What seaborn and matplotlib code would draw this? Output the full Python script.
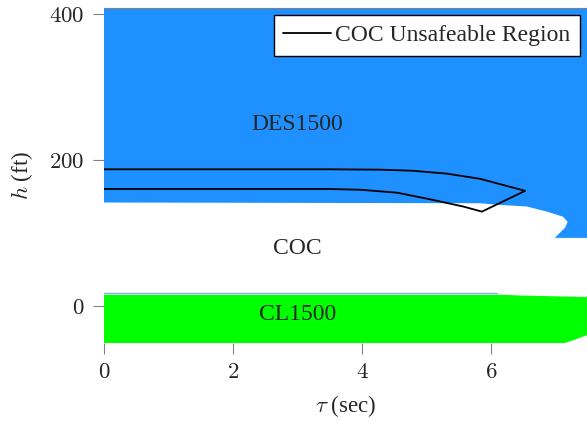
import matplotlib
matplotlib.use("Agg")
import matplotlib.pyplot as plt
import seaborn as sns

# region boundaries (tau in sec, h in ft)
des_tau = [0, 7.5, 7.5, 6.99, 7.15, 7.19, 7.12, 6.87, 6.56, 6.09, 5.83, 0]
des_h = [408, 408, 93, 93, 107, 115, 122, 129, 136, 138.5, 140.5, 141.5]

cl_tau = [0, 6.2, 6.46, 7.5, 7.5, 7.12, 0]
cl_h = [15, 15, 14, 12, -40, -52, -52]

cl_edge_tau = [0, 6.1]
cl_edge_h = [18, 18]

# COC unsafeable region outline: upper branch -> tip -> lower branch
unsafe_tau = [0, 3.5, 4.28, 4.79, 5.32, 5.83, 6.53, 5.86, 5.57, 5.05, 4.54, 3.97, 3.5, 0]
unsafe_h = [187, 187, 186.5, 185, 181, 174, 157.5, 129, 136, 146, 155, 159, 160, 160]

xticks = [0, 2, 4, 6]
yticks = [0, 200, 400]

sns.set_style("white")
plt.rcParams["font.family"] = ["Liberation Serif", "DejaVu Serif"]
plt.rcParams["mathtext.fontset"] = "cm"

fig = plt.figure(figsize=(5.87, 4.21), dpi=100)
ax = fig.add_axes([104 / 587, 78 / 421, 483 / 587, 335 / 421])

ax.fill(des_tau, des_h, color="#1e90ff", lw=0)
ax.fill(cl_tau, cl_h, color="#00ff00", lw=0)
ax.plot(cl_edge_tau, cl_edge_h, color="#80b2ee", lw=1)

sns.lineplot(x=unsafe_tau, y=unsafe_h, sort=False, estimator=None, color="black",
             lw=1.3, ax=ax, label="COC Unsafeable Region")

ax.text(3, 248, "DES1500", ha="center", va="center", fontsize=17)
ax.text(3, 79, "COC", ha="center", va="center", fontsize=17)
ax.text(3, -12, "CL1500", ha="center", va="center", fontsize=17)

ax.set_xlim(0, 7.49)
ax.set_ylim(-51, 408)
ax.set_xticks(xticks, labels=[f"${t}$" for t in xticks])
ax.set_yticks(yticks, labels=[f"${t}$" for t in yticks])
ax.tick_params(direction="out", length=8, width=0.8, color="#808080",
               labelsize=16.5, pad=6, bottom=True, left=True)
for s in ["left", "right", "bottom"]:
    ax.spines[s].set_visible(False)
ax.spines["top"].set_color("#808080")
ax.spines["top"].set_linewidth(0.8)

ax.set_xlabel(r"$\tau$ (sec)", fontsize=16.5, labelpad=7)
ax.set_ylabel(r"$h$ (ft)", fontsize=16.5, labelpad=10)

leg = ax.legend(loc="upper right", fontsize=17, frameon=True, fancybox=False,
                framealpha=1, edgecolor="black", borderaxespad=0.3,
                handlelength=2.0, handletextpad=0.2, borderpad=0.4)
leg.get_frame().set_linewidth(1)

fig.savefig("out.png", dpi=100)
